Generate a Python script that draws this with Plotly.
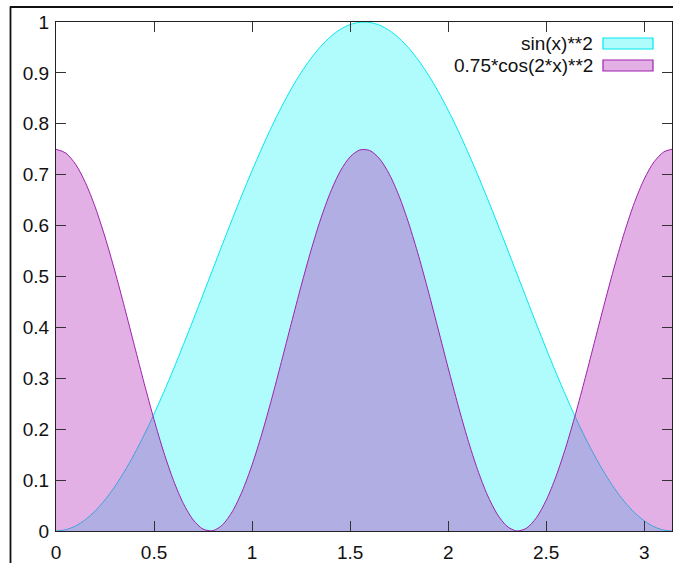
import plotly.graph_objects as go

# sample positions (x) and values
x_vals = [0.00, 0.05, 0.10, 0.15, 0.20, 0.25, 0.30, 0.35, 0.40, 0.45,
          0.50, 0.55, 0.60, 0.65, 0.70, 0.75, 0.80, 0.85, 0.90, 0.95,
          1.00, 1.05, 1.10, 1.15, 1.20, 1.25, 1.30, 1.35, 1.40, 1.45,
          1.50, 1.55, 1.60, 1.65, 1.70, 1.75, 1.80, 1.85, 1.90, 1.95,
          2.00, 2.05, 2.10, 2.15, 2.20, 2.25, 2.30, 2.35, 2.40, 2.45,
          2.50, 2.55, 2.60, 2.65, 2.70, 2.75, 2.80, 2.85, 2.90, 2.95,
          3.00, 3.05, 3.10, 3.1416]
sin2_vals = [0.0, 0.0025, 0.0100, 0.0223, 0.0395, 0.0612, 0.0873, 0.1176, 0.1516, 0.1892,
             0.2298, 0.2732, 0.3188, 0.3663, 0.4150, 0.4646, 0.5146, 0.5645, 0.6136, 0.6617,
             0.7081, 0.7524, 0.7943, 0.8332, 0.8687, 0.9006, 0.9284, 0.9520, 0.9711, 0.9855,
             0.9950, 0.9996, 0.9991, 0.9938, 0.9834, 0.9683, 0.9484, 0.9241, 0.8955, 0.8630,
             0.8268, 0.7875, 0.7451, 0.7004, 0.6537, 0.6054, 0.5561, 0.5062, 0.4563, 0.4068,
             0.3582, 0.3110, 0.2658, 0.2228, 0.1827, 0.1457, 0.1122, 0.0827, 0.0572, 0.0363,
             0.0199, 0.0084, 0.0017, 0.0]
cos2_vals = [0.7500, 0.7425, 0.7204, 0.6845, 0.6363, 0.5776, 0.5109, 0.4387, 0.3641, 0.2898,
             0.2189, 0.1543, 0.0985, 0.0537, 0.0217, 0.0037, 0.0006, 0.0124, 0.0387, 0.0784,
             0.1299, 0.1911, 0.2597, 0.3330, 0.4078, 0.4813, 0.5507, 0.6131, 0.6658, 0.7071,
             0.7351, 0.7487, 0.7475, 0.7314, 0.7010, 0.6578, 0.6032, 0.5395, 0.4693, 0.3952,
             0.3204, 0.2478, 0.1803, 0.1205, 0.0708, 0.0333, 0.0094, 0.0001, 0.0057, 0.0261,
             0.0604, 0.1072, 0.1646, 0.2305, 0.3021, 0.3767, 0.4512, 0.5225, 0.5881, 0.6452,
             0.6915, 0.7252, 0.7448, 0.7500]
series_names = ["sin(x)**2", "0.75*cos(2*x)**2"]
x_ticks = [0, 0.5, 1, 1.5, 2, 2.5, 3]
y_ticks = [0, 0.1, 0.2, 0.3, 0.4, 0.5, 0.6, 0.7, 0.8, 0.9, 1]

W, H = 674, 564
L, T, R, B = 56, 22, 672, 531
FONT = "Liberation Sans, Arial, sans-serif"
FS = 19

cyan_line = "#00e8f0"
cyan_fill = "rgba(0,245,245,0.31)"
purp_line = "#a020b0"
purp_fill = "rgba(176,40,181,0.37)"

fig = go.Figure()
fig.add_trace(go.Scatter(x=x_vals, y=sin2_vals, mode="lines", fill="tozeroy",
                         line=dict(color=cyan_line, width=1, shape="spline", smoothing=0.8),
                         fillcolor=cyan_fill, name=series_names[0], showlegend=False))
fig.add_trace(go.Scatter(x=x_vals, y=cos2_vals, mode="lines", fill="tozeroy",
                         line=dict(color=purp_line, width=1, shape="spline", smoothing=0.8),
                         fillcolor=purp_fill, name=series_names[1], showlegend=False))


def px(xp):
    return (xp - L) / (R - L)


def py(yp):
    return (B - yp) / (B - T)


shapes = []
annotations = []
# manual gnuplot-style key: text right-aligned, sample box at right
key_rows = [(series_names[0], 43.5, cyan_fill, cyan_line),
            (series_names[1], 65.5, purp_fill, purp_line)]
for name, yc, fc, lc in key_rows:
    annotations.append(dict(x=px(595), y=py(yc), xref="paper", yref="paper",
                            text=name, showarrow=False, xanchor="right", yanchor="middle",
                            font=dict(family=FONT, size=FS, color="#111111")))
    shapes.append(dict(type="rect", xref="paper", yref="paper",
                       x0=px(603), x1=px(653), y0=py(yc - 5.5), y1=py(yc + 5.5),
                       fillcolor=fc, line=dict(color=lc, width=1.2)))
# outer frame of the picture (top and left edges), kept inside the page
frame_style = dict(color="#111111", width=1.8)
shapes.append(dict(type="line", xref="paper", yref="paper", layer="above",
                   x0=px(10), x1=px(673), y0=py(7), y1=py(7), line=frame_style))
shapes.append(dict(type="line", xref="paper", yref="paper", layer="above",
                   x0=px(10.5), x1=px(10.5), y0=py(6.5), y1=py(563), line=frame_style))

fig.update_layout(
    width=W, height=H, autosize=False,
    margin=dict(l=L, t=T, r=W - R, b=H - B, pad=0, autoexpand=False),
    paper_bgcolor="white", plot_bgcolor="white",
    showlegend=False,
    shapes=shapes, annotations=annotations,
    font=dict(family=FONT, size=FS, color="#111111"),
)
axis_common = dict(showgrid=False, zeroline=False, showline=True, linecolor="#222222",
                   linewidth=1.2, mirror="allticks", ticks="inside", ticklen=10,
                   tickcolor="#333333", tickwidth=1.2, automargin=False,
                   tickfont=dict(family=FONT, size=FS, color="#111111"))
fig.update_xaxes(range=[0, 3.1416], tickvals=x_ticks,
                 ticktext=[f"{v:g}" for v in x_ticks], ticklabelstandoff=4, **axis_common)
fig.update_yaxes(range=[0, 1], tickvals=y_ticks,
                 ticktext=[f"{v:g}" for v in y_ticks], ticklabelstandoff=2, **axis_common)

fig.write_html("out.html", config={"displayModeBar": False},
               post_script="document.body.style.margin='0';"
               "document.body.style.overflow='hidden';")
